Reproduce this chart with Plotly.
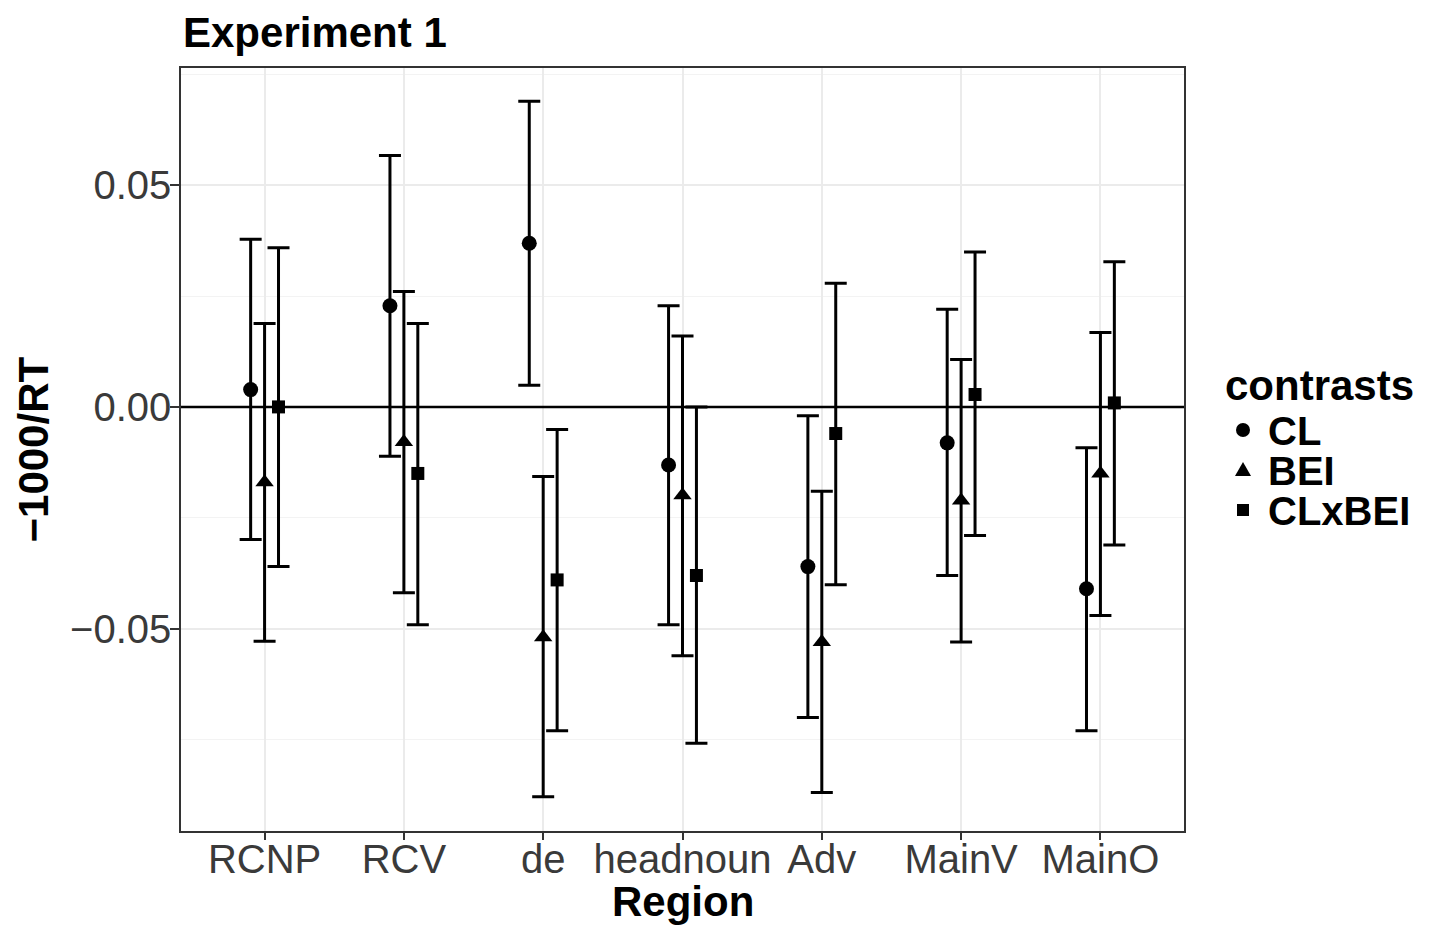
import plotly.graph_objects as go

regions = ["RCNP", "RCV", "de", "headnoun", "Adv", "MainV", "MainO"]
contrasts = ["CL", "BEI", "CLxBEI"]

cl_est = [0.0039, 0.0228, 0.0369, -0.0131, -0.0360, -0.0081, -0.0410]
cl_lo = [-0.0299, -0.0111, 0.0049, -0.0491, -0.0700, -0.0380, -0.0730]
cl_hi = [0.0378, 0.0567, 0.0689, 0.0228, -0.0020, 0.0220, -0.0092]

bei_est = [-0.0170, -0.0079, -0.0519, -0.0199, -0.0530, -0.0211, -0.0150]
bei_lo = [-0.0528, -0.0419, -0.0879, -0.0561, -0.0869, -0.0530, -0.0470]
bei_hi = [0.0188, 0.0260, -0.0157, 0.0160, -0.0190, 0.0107, 0.0168]

clxbei_est = [0.0000, -0.0150, -0.0390, -0.0380, -0.0060, 0.0028, 0.0009]
clxbei_lo = [-0.0360, -0.0491, -0.0730, -0.0758, -0.0401, -0.0290, -0.0311]
clxbei_hi = [0.0359, 0.0188, -0.0051, 0.0000, 0.0279, 0.0349, 0.0327]

series = {
    "CL": (cl_est, cl_lo, cl_hi),
    "BEI": (bei_est, bei_lo, bei_hi),
    "CLxBEI": (clxbei_est, clxbei_lo, clxbei_hi),
}
offsets = {"CL": -0.1, "BEI": 0.0, "CLxBEI": 0.1}
symbols = {"CL": "circle", "BEI": "triangle-up", "CLxBEI": "square"}
sizes = {"CL": 15, "BEI": 16, "CLxBEI": 13}

y_tickvals = [-0.05, 0.0, 0.05]
y_ticktext = ["\u22120.05", "0.00", "0.05"]

FONT = "Liberation Sans, Arial, sans-serif"
W, H = 1433, 926
L, R, T, B = 181, 249, 68, 95
PW, PH = W - L - R, H - T - B


def px_x(px):
    return (px - L) / PW


def px_y(py):
    return (H - B - py) / PH


fig = go.Figure()

# zero reference line (drawn first, under the markers)
fig.add_trace(go.Scatter(x=[-0.6, 6.6], y=[0, 0], mode="lines",
                         line=dict(color="black", width=2.5),
                         showlegend=False, hoverinfo="skip"))

for name in contrasts:
    est, lo, hi = series[name]
    xs = [i + offsets[name] for i in range(len(regions))]
    fig.add_trace(go.Scatter(
        x=xs, y=est, mode="markers", name=name, showlegend=False,
        marker=dict(symbol=symbols[name], size=sizes[name], color="black"),
        error_y=dict(type="data", symmetric=False,
                     array=[h - e for h, e in zip(hi, est)],
                     arrayminus=[e - l for e, l in zip(est, lo)],
                     color="black", thickness=3, width=11),
    ))

annotations = []
shapes = []

# custom legend
annotations.append(dict(text="<b>contrasts</b>", xref="paper", yref="paper",
                        x=px_x(1223), y=px_y(385), xanchor="left", yanchor="middle",
                        showarrow=False, font=dict(size=42, color="black", family=FONT)))
item_y = [431, 471, 511]
marker_x = 1243
for name, py in zip(contrasts, item_y):
    annotations.append(dict(text="<b>" + name + "</b>", xref="paper", yref="paper",
                            x=px_x(1266), y=px_y(py), xanchor="left", yanchor="middle",
                            showarrow=False, font=dict(size=40, color="black", family=FONT)))
    base = dict(xref="paper", yref="paper", xsizemode="pixel", ysizemode="pixel",
                xanchor=px_x(marker_x), yanchor=px_y(py - 1),
                fillcolor="black", line=dict(width=0), layer="above")
    if symbols[name] == "circle":
        shapes.append(dict(type="circle", x0=-7, x1=7, y0=-7, y1=7, **base))
    elif symbols[name] == "square":
        shapes.append(dict(type="rect", x0=-6, x1=6, y0=-6, y1=6, **base))
    else:
        shapes.append(dict(type="path", path="M -8 -6 L 8 -6 L 0 8 Z", **base))

# axis titles
annotations.append(dict(text="<b>Region</b>", xref="paper", yref="paper",
                        x=0.5, y=px_y(902), xanchor="center", yanchor="middle",
                        showarrow=False, font=dict(size=42, color="black", family=FONT)))
annotations.append(dict(text="<b>\u22121000/RT</b>", xref="paper", yref="paper",
                        x=px_x(33), y=0.5, xanchor="center", yanchor="middle", textangle=-90,
                        showarrow=False, font=dict(size=42, color="black", family=FONT)))
# title
annotations.append(dict(text="<b>Experiment 1</b>", xref="paper", yref="paper",
                        x=px_x(181), y=px_y(32), xanchor="left", yanchor="middle",
                        showarrow=False, font=dict(size=42, color="black", family=FONT)))

fig.update_layout(
    width=W, height=H,
    margin=dict(l=L, r=R, t=T, b=B, autoexpand=False),
    paper_bgcolor="white", plot_bgcolor="white",
    font=dict(family=FONT, color="black"),
    showlegend=False,
    annotations=annotations,
    shapes=shapes,
    xaxis=dict(
        range=[-0.6, 6.6], tickvals=list(range(len(regions))), ticktext=regions,
        showgrid=True, gridcolor="#EBEBEB", gridwidth=1.5,
        zeroline=False, showline=True, mirror=True, linecolor="#333333", linewidth=1.5,
        ticks="outside", ticklen=7, tickwidth=1.5, tickcolor="#333333",
        tickfont=dict(size=40, color="#3a3a3a"), automargin=False,
        ticklabelstandoff=-15,
    ),
    yaxis=dict(
        range=[-0.0956, 0.0764], tickvals=y_tickvals, ticktext=y_ticktext,
        showgrid=True, gridcolor="#EBEBEB", gridwidth=1.5,
        minor=dict(tickvals=[-0.075, -0.025, 0.025, 0.075], showgrid=True,
                   gridcolor="#F3F3F3", gridwidth=1, ticks=""),
        zeroline=False, showline=True, mirror=True, linecolor="#333333", linewidth=1.5,
        ticks="outside", ticklen=9, tickwidth=1.5, tickcolor="#333333",
        tickfont=dict(size=40, color="#3a3a3a"), automargin=False,
        ticklabelstandoff=-9,
    ),
)

fig.write_html("out.html", config={"displayModeBar": False},
               post_script="document.body.style.margin='0';document.body.style.padding='0';")
